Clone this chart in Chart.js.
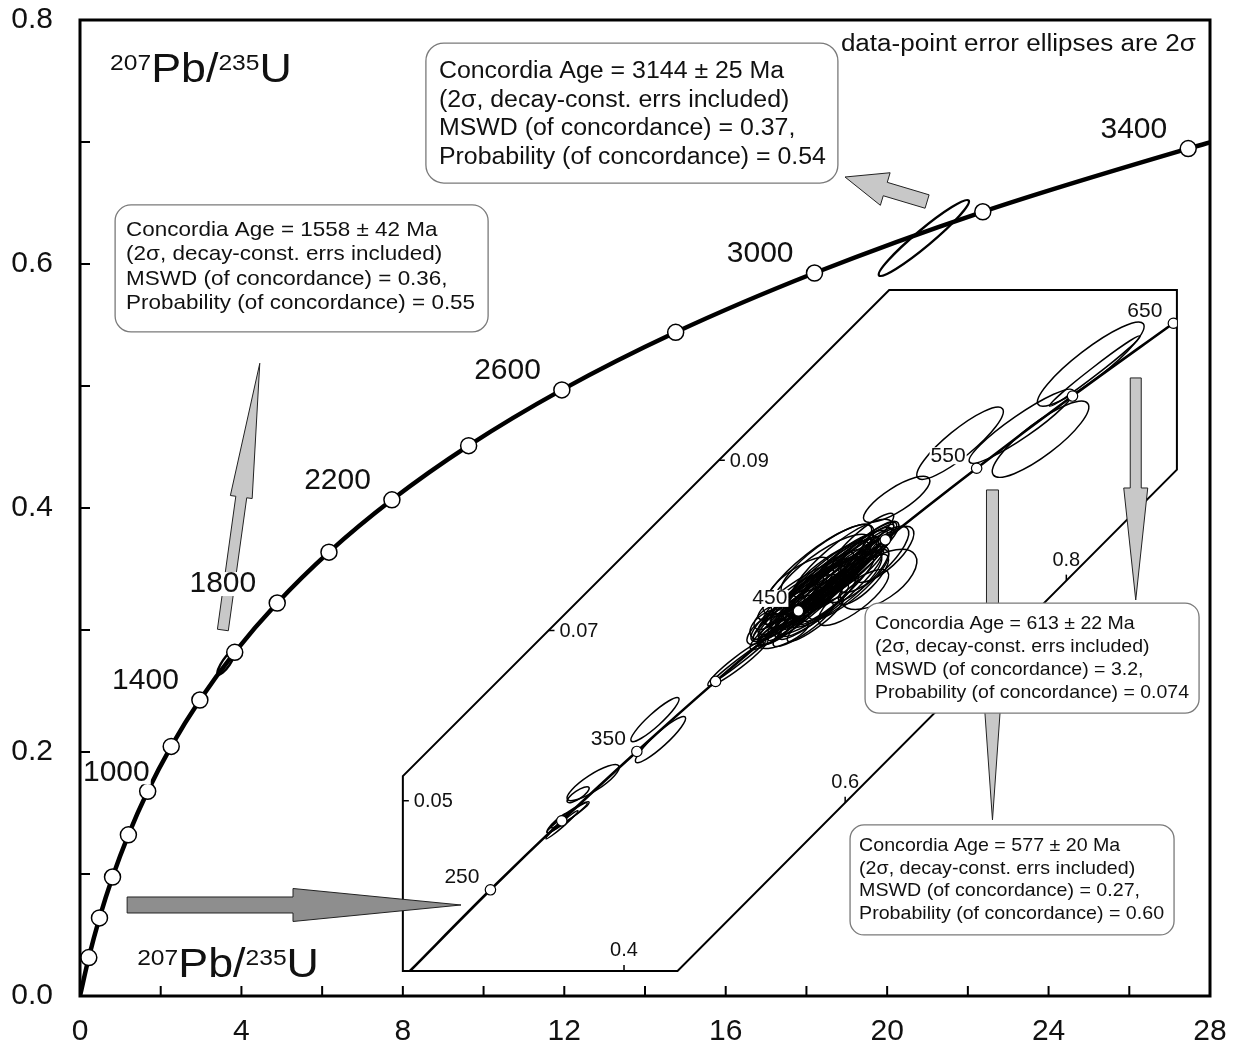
<!DOCTYPE html>
<html>
<head>
<meta charset="utf-8">
<title>U-Pb concordia</title>
<script src="https://cdn.jsdelivr.net/npm/chart.js@4.4.1/dist/chart.umd.min.js"></script>
<style>
  html, body { margin: 0; padding: 0; background: #fff; }
  #wrap { position: relative; width: 1234px; height: 1050px; }
</style>
</head>
<body>
<div id="wrap"><canvas id="concordia" width="1234" height="1050"></canvas></div>
<script>
const FONT = '"Liberation Sans", Arial, Helvetica, sans-serif';

// main concordia, 207Pb/235U (x) vs 206Pb/238U (y), markers every 200 Ma
const concAges = [200, 400, 600, 800, 1000, 1200, 1400, 1600, 1800, 2000, 2200, 2400, 2600, 2800, 3000, 3200, 3400];
const concX = [0.218, 0.483, 0.806, 1.199, 1.677, 2.260, 2.970, 3.834, 4.887, 6.169, 7.729, 9.630, 11.94, 14.76, 18.20, 22.37, 27.46];
const concY = [0.0315, 0.0640, 0.0975, 0.1321, 0.1678, 0.2046, 0.2426, 0.2817, 0.3221, 0.3638, 0.4067, 0.4511, 0.4968, 0.5440, 0.5926, 0.6428, 0.6946];
const concEnds = [[0, 0], [28, 0.6996]];
const concLabelAges = [1000, 1400, 1800, 2200, 2600, 3000, 3400];

// inset: young part of the curve, markers every 50 Ma
const insetAges = [250, 300, 350, 400, 450, 500, 550, 600, 650];
const insetX = [0.2792, 0.3437, 0.4116, 0.4828, 0.5577, 0.6363, 0.7189, 0.8056, 0.8968];
const insetY = [0.03954, 0.04764, 0.05579, 0.06402, 0.07230, 0.08065, 0.08906, 0.09754, 0.10609];
const insetStart = [0.2064, 0.0300];
const insetLabelAges = [250, 350, 450, 550, 650];
const insetXTicks = [0.4, 0.6, 0.8];
const insetYTicks = [0.05, 0.07, 0.09];

// error ellipses: [x, y, 2s x, 2s y, rho]
const mainEllipses = [
  [20.91, 0.6213, 1.118, 0.0311, 0.96],
  [3.627, 0.2734, 0.224, 0.0102, 0.85]
];
const insetEllipses = [
  [0.3439, 0.04718, 0.0145, 0.00165, 0.98],
  [0.3485, 0.04800, 0.0182, 0.00176, 0.97],
  [0.3512, 0.04835, 0.0173, 0.00153, 0.95],
  [0.3403, 0.04741, 0.0100, 0.00118, 0.90],
  [0.3721, 0.05212, 0.0236, 0.00212, 0.85],
  [0.3585, 0.05071, 0.0100, 0.00094, 0.80],
  [0.4280, 0.05953, 0.0218, 0.00259, 0.92],
  [0.4330, 0.05718, 0.0227, 0.00271, 0.92],
  [0.5030, 0.06624, 0.0273, 0.00276, 0.95],
  [0.5039, 0.06635, 0.0245, 0.00247, 0.99],
  [0.5394, 0.07035, 0.0255, 0.00259, 0.90],
  [0.5485, 0.07188, 0.0318, 0.00318, 0.90],
  [0.5575, 0.07306, 0.0364, 0.00353, 0.88],
  [0.5666, 0.07388, 0.0345, 0.00376, 0.85],
  [0.5730, 0.07482, 0.0409, 0.00388, 0.90],
  [0.5803, 0.07541, 0.0382, 0.00412, 0.88],
  [0.5875, 0.07624, 0.0409, 0.00447, 0.87],
  [0.5939, 0.07694, 0.0364, 0.00400, 0.90],
  [0.6003, 0.07765, 0.0382, 0.00412, 0.88],
  [0.6075, 0.07835, 0.0345, 0.00376, 0.90],
  [0.6148, 0.07918, 0.0318, 0.00353, 0.90],
  [0.6212, 0.07976, 0.0273, 0.00306, 0.85],
  [0.5785, 0.07659, 0.0455, 0.00471, 0.80],
  [0.5894, 0.07482, 0.0436, 0.00447, 0.82],
  [0.5621, 0.07482, 0.0409, 0.00353, 0.90],
  [0.6030, 0.07541, 0.0364, 0.00412, 0.85],
  [0.5530, 0.07365, 0.0273, 0.00294, 0.85],
  [0.5712, 0.07224, 0.0318, 0.00329, 0.90],
  [0.5348, 0.07106, 0.0200, 0.00235, 0.80],
  [0.5257, 0.07012, 0.0145, 0.00176, 0.70],
  [0.5303, 0.07153, 0.0127, 0.00141, 0.60],
  [0.5439, 0.06953, 0.0227, 0.00165, 0.70],
  [0.6121, 0.07659, 0.0273, 0.00329, 0.80],
  [0.6257, 0.07835, 0.0318, 0.00388, 0.80],
  [0.6348, 0.07894, 0.0273, 0.00329, 0.75],
  [0.6303, 0.07600, 0.0345, 0.00353, 0.60],
  [0.6466, 0.08541, 0.0300, 0.00271, 0.80],
  [0.5830, 0.07835, 0.0409, 0.00412, 0.85],
  [0.5757, 0.07718, 0.0500, 0.00529, 0.85],
  [0.5966, 0.07776, 0.0473, 0.00529, 0.83],
  [0.5621, 0.07071, 0.0273, 0.00259, 0.88],
  [0.5848, 0.07365, 0.0273, 0.00294, 0.90],
  [0.6166, 0.08071, 0.0273, 0.00306, 0.90],
  [0.5575, 0.07600, 0.0273, 0.00259, 0.80],
  [0.6075, 0.07388, 0.0318, 0.00329, 0.80],
  [0.5530, 0.07306, 0.0364, 0.00412, 0.95],
  [0.5621, 0.07365, 0.0409, 0.00447, 0.95],
  [0.5712, 0.07424, 0.0382, 0.00424, 0.96],
  [0.5803, 0.07482, 0.0436, 0.00471, 0.94],
  [0.5894, 0.07600, 0.0409, 0.00447, 0.95],
  [0.5985, 0.07659, 0.0364, 0.00412, 0.95],
  [0.5848, 0.07541, 0.0345, 0.00353, 0.97],
  [0.5757, 0.07365, 0.0318, 0.00353, 0.96],
  [0.5666, 0.07247, 0.0300, 0.00329, 0.95],
  [0.5575, 0.07188, 0.0273, 0.00306, 0.95],
  [0.5939, 0.07482, 0.0318, 0.00376, 0.93],
  [0.6030, 0.07600, 0.0318, 0.00353, 0.95],
  [0.6121, 0.07776, 0.0300, 0.00353, 0.94],
  [0.5803, 0.07659, 0.0364, 0.00400, 0.93],
  [0.5712, 0.07541, 0.0364, 0.00376, 0.93],
  [0.5621, 0.07424, 0.0345, 0.00353, 0.92],
  [0.5485, 0.07071, 0.0227, 0.00235, 0.90],
  [0.5394, 0.07012, 0.0182, 0.00188, 0.85],
  [0.5348, 0.06953, 0.0136, 0.00118, 0.70],
  [0.5875, 0.07424, 0.0455, 0.00494, 0.92],
  [0.5985, 0.07835, 0.0273, 0.00294, 0.90],
  [0.5730, 0.07129, 0.0255, 0.00259, 0.90],
  [0.6166, 0.07600, 0.0227, 0.00294, 0.80],
  [0.5303, 0.07071, 0.0164, 0.00176, 0.50],
  [0.5803, 0.07541, 0.0500, 0.00565, 0.97],
  [0.5939, 0.07659, 0.0500, 0.00541, 0.96],
  [0.5666, 0.07365, 0.0455, 0.00494, 0.96],
  [0.6030, 0.07776, 0.0409, 0.00471, 0.96],
  [0.5730, 0.07306, 0.0364, 0.00353, 0.85],
  [0.5875, 0.07718, 0.0345, 0.00329, 0.85],
  [0.7039, 0.09200, 0.0391, 0.00424, 0.88],
  [0.7594, 0.09400, 0.0473, 0.00435, 0.93],
  [0.7767, 0.09247, 0.0436, 0.00447, 0.85],
  [0.8221, 0.10129, 0.0482, 0.00494, 0.90],
  [0.8257, 0.10047, 0.0409, 0.00412, 0.99]
];

// concordia age results
const box3144 = ['Concordia Age = 3144 \u00b1 25 Ma', '(2\u03c3, decay-const. errs included)', 'MSWD (of concordance) = 0.37,', 'Probability (of concordance) = 0.54'];
const box1558 = ['Concordia Age = 1558 \u00b1 42 Ma', '(2\u03c3, decay-const. errs included)', 'MSWD (of concordance) = 0.36,', 'Probability (of concordance) = 0.55'];
const box613 = ['Concordia Age = 613 \u00b1 22 Ma', '(2\u03c3, decay-const. errs included)', 'MSWD (of concordance) = 3.2,', 'Probability (of concordance) = 0.074'];
const box577 = ['Concordia Age = 577 \u00b1 20 Ma', '(2\u03c3, decay-const. errs included)', 'MSWD (of concordance) = 0.27,', 'Probability (of concordance) = 0.60'];

// where the inset sits, in main-axis units
const insetPlace = { xMin: 8, xMax: 27.18, yMin: 0.0205, yMax: 0.5787 };
// inset outline in inset units (band around the curve)
const insetFrame = [[0.2, 0.03], [0.4484, 0.03], [0.9, 0.0889], [0.9, 0.11], [0.6398, 0.11], [0.2, 0.0529]];

const resultBoxes = [
  { at: [8.571, 0.7811], w: 412, h: 140, r: 18, size: 23, textWidth: 387, first: 29, step: 28.5, pad: 13, lines: box3144 },
  { at: [0.870, 0.6484], w: 373, h: 127, r: 16, size: 21, textWidth: 349, first: 25, step: 24.5, pad: 11, lines: box1558 },
  { at: [19.453, 0.3221], w: 334, h: 110, r: 14, size: 19, textWidth: 314, first: 21, step: 23, pad: 10, lines: box613 },
  { at: [19.081, 0.1402], w: 324, h: 110, r: 14, size: 19, textWidth: 305, first: 21, step: 22.5, pad: 9, lines: box577 }
];

const arrows = [
  { from: [1.168, 0.0746], to: [9.441, 0.0746], shaft: 8, headLen: 168, head: 16.5, fill: '#8e8e8e' },
  { from: [3.540, 0.3000], to: [4.455, 0.5186], shaft: 5.5, headLen: 135, head: 11, fill: '#c8c8c8' },
  { from: [20.99, 0.6512], to: [18.956, 0.6713], shaft: 7, headLen: 42, head: 17, fill: '#c8c8c8' },
  { from: [26.16, 0.5066], to: [26.16, 0.3246], shaft: 5.5, headLen: 112, head: 12, fill: '#c8c8c8' },
  { from: [22.61, 0.4148], to: [22.61, 0.1443], shaft: 6, headLen: 170, head: 12, fill: '#c8c8c8' }
];

function pts(xs, ys) {
  return xs.map((x, i) => ({ x: x, y: ys[i] }));
}

function drawEllipse(ctx, xs, ys, e) {
  const [cx, cy, sx, sy, rho] = e;
  const px = xs.getPixelForValue(cx), py = ys.getPixelForValue(cy);
  const ax = xs.getPixelForValue(cx + sx) - px;
  const ay = ys.getPixelForValue(cy + sy) - py;
  const a = ax * ax, b = ay * ay, c = rho * ax * ay;
  const mid = (a + b) / 2, d = Math.sqrt(((a - b) / 2) ** 2 + c * c);
  const r1 = Math.sqrt(mid + d), r2 = Math.sqrt(Math.max(mid - d, 0.5));
  const ang = 0.5 * Math.atan2(2 * c, a - b);
  ctx.beginPath();
  ctx.ellipse(px, py, r1, r2, ang, 0, 2 * Math.PI);
  ctx.stroke();
}

function drawArrow(ctx, p0, p1, a) {
  const dx = p1.x - p0.x, dy = p1.y - p0.y, L = Math.hypot(dx, dy);
  const ux = dx / L, uy = dy / L, nx = -uy, ny = ux;
  const bx = p1.x - ux * a.headLen, by = p1.y - uy * a.headLen;
  const poly = [
    [p0.x + nx * a.shaft, p0.y + ny * a.shaft],
    [bx + nx * a.shaft, by + ny * a.shaft],
    [bx + nx * a.head, by + ny * a.head],
    [p1.x, p1.y],
    [bx - nx * a.head, by - ny * a.head],
    [bx - nx * a.shaft, by - ny * a.shaft],
    [p0.x - nx * a.shaft, p0.y - ny * a.shaft]
  ];
  ctx.beginPath();
  poly.forEach((p, i) => i ? ctx.lineTo(p[0], p[1]) : ctx.moveTo(p[0], p[1]));
  ctx.closePath();
  ctx.fillStyle = a.fill;
  ctx.fill();
  ctx.lineWidth = 1;
  ctx.strokeStyle = '#222';
  ctx.stroke();
}

function roundBox(ctx, x, y, w, h, r) {
  ctx.beginPath();
  ctx.moveTo(x + r, y);
  ctx.arcTo(x + w, y, x + w, y + h, r);
  ctx.arcTo(x + w, y + h, x, y + h, r);
  ctx.arcTo(x, y + h, x, y, r);
  ctx.arcTo(x, y, x + w, y, r);
  ctx.closePath();
}

// text with a horizontal stretch factor
function textAt(ctx, str, x, y, sx, align) {
  ctx.save();
  ctx.translate(x, y);
  ctx.scale(sx, 1);
  ctx.textAlign = align || 'left';
  ctx.fillText(str, 0, 0);
  ctx.restore();
}

// label on a white patch, so it knocks out lines behind it
function patchLabel(ctx, str, x, y, h) {
  const w = ctx.measureText(str).width;
  ctx.fillStyle = '#fff';
  ctx.fillRect(x - 1, y - h / 2, w + 2, h);
  ctx.fillStyle = '#111';
  ctx.textAlign = 'left';
  ctx.fillText(str, x, y);
}

function isotopeLabel(ctx, x, y) {
  const sx = 1.12;
  let cx = x;
  const part = (s, size, rise) => {
    ctx.font = size + 'px ' + FONT;
    textAt(ctx, s, cx, y - rise, sx, 'left');
    cx += ctx.measureText(s).width * sx;
  };
  ctx.textBaseline = 'alphabetic';
  part('207', 22, 12); part('Pb/', 40, 0); part('235', 22, 12); part('U', 40, 0);
}

// point on a frame edge chain where one coordinate equals val
function edgePoint(chain, axis, val) {
  for (let i = 0; i < chain.length - 1; i++) {
    const a = chain[i], b = chain[i + 1];
    const lo = Math.min(a[axis], b[axis]), hi = Math.max(a[axis], b[axis]);
    if (hi > lo && val >= lo && val <= hi) {
      const t = (val - a[axis]) / (b[axis] - a[axis]);
      return [a[0] + t * (b[0] - a[0]), a[1] + t * (b[1] - a[1])];
    }
  }
  return null;
}

const concordiaPlugin = {
  id: 'concordiaExtras',
  afterLayout(chart) {
    // squeeze the inset axes into their box inside the plot
    const { x, y, ix, iy } = chart.scales;
    ix.left = x.getPixelForValue(insetPlace.xMin);
    ix.right = x.getPixelForValue(insetPlace.xMax);
    ix.width = ix.right - ix.left;
    iy.top = y.getPixelForValue(insetPlace.yMax);
    iy.bottom = y.getPixelForValue(insetPlace.yMin);
    iy.height = iy.bottom - iy.top;
    ix.configure();
    iy.configure();
  },
  beforeDatasetsDraw(chart) {
    const ctx = chart.ctx;
    const { x, y, ix, iy } = chart.scales;
    ctx.save();
    // inset outline
    ctx.beginPath();
    insetFrame.forEach((p, i) => {
      const px = ix.getPixelForValue(p[0]), py = iy.getPixelForValue(p[1]);
      i ? ctx.lineTo(px, py) : ctx.moveTo(px, py);
    });
    ctx.closePath();
    ctx.fillStyle = '#fff';
    ctx.fill();
    ctx.lineWidth = 2;
    ctx.strokeStyle = '#000';
    ctx.stroke();

    // inset ticks
    ctx.fillStyle = '#111';
    ctx.font = '20px ' + FONT;
    const lower = [insetFrame[0], insetFrame[1], insetFrame[2]];
    const left = [insetFrame[0], insetFrame[5], insetFrame[4]];
    ctx.lineWidth = 1.5;
    insetXTicks.forEach(v => {
      const p = edgePoint(lower, 0, v);
      const px = ix.getPixelForValue(p[0]), py = iy.getPixelForValue(p[1]);
      ctx.beginPath(); ctx.moveTo(px, py); ctx.lineTo(px, py - 6); ctx.stroke();
      ctx.textAlign = 'center'; ctx.textBaseline = 'alphabetic';
      ctx.fillText(v.toFixed(1), px, py - 15);
    });
    insetYTicks.forEach(v => {
      const p = edgePoint(left, 1, v);
      const px = ix.getPixelForValue(p[0]), py = iy.getPixelForValue(p[1]);
      ctx.beginPath(); ctx.moveTo(px, py); ctx.lineTo(px + 6, py); ctx.stroke();
      ctx.textAlign = 'left'; ctx.textBaseline = 'middle';
      ctx.fillText(v.toFixed(2), px + 11, py + 1);
    });

    // error ellipses
    ctx.strokeStyle = '#000';
    ctx.lineWidth = 2.4;
    mainEllipses.forEach(e => drawEllipse(ctx, x, y, e));
    ctx.lineWidth = 1.5;
    insetEllipses.forEach(e => drawEllipse(ctx, ix, iy, e));
    ctx.restore();
  },
  afterDatasetsDraw(chart) {
    const ctx = chart.ctx;
    const { x, y } = chart.scales;
    const area = chart.chartArea;
    ctx.save();
    ctx.strokeStyle = '#000';
    // inward tick marks and frame
    ctx.lineWidth = 2;
    x.ticks.forEach(t => {
      const px = x.getPixelForValue(t.value);
      ctx.beginPath(); ctx.moveTo(px, area.bottom); ctx.lineTo(px, area.bottom - 10); ctx.stroke();
    });
    y.ticks.forEach(t => {
      const py = y.getPixelForValue(t.value);
      ctx.beginPath(); ctx.moveTo(area.left, py); ctx.lineTo(area.left + 10, py); ctx.stroke();
    });
    ctx.lineWidth = 3;
    ctx.strokeRect(area.left, area.top, area.right - area.left, area.bottom - area.top);
    ctx.restore();
  },
  afterDraw(chart) {
    const ctx = chart.ctx;
    const { x, y, ix, iy } = chart.scales;
    const area = chart.chartArea;
    const P = (p) => ({ x: x.getPixelForValue(p[0]), y: y.getPixelForValue(p[1]) });
    ctx.save();
    arrows.forEach(a => drawArrow(ctx, P(a.from), P(a.to), a));

    // age labels on the main curve
    ctx.font = '30px ' + FONT;
    ctx.textBaseline = 'middle';
    concLabelAges.forEach(age => {
      const i = concAges.indexOf(age);
      const px = x.getPixelForValue(concX[i]), py = y.getPixelForValue(concY[i]);
      const s = String(age);
      const w = ctx.measureText(s).width;
      const lx = Math.max(px - 21 - w, area.left + 3);
      patchLabel(ctx, s, lx, py - 19, 24);
    });
    // age labels on the inset curve
    ctx.font = '21px ' + FONT;
    insetLabelAges.forEach(age => {
      const i = insetAges.indexOf(age);
      const px = ix.getPixelForValue(insetX[i]), py = iy.getPixelForValue(insetY[i]);
      const s = String(age);
      patchLabel(ctx, s, px - 11 - ctx.measureText(s).width, py - 12.5, 17);
    });

    resultBoxes.forEach(b => {
      const o = P(b.at);
      roundBox(ctx, o.x, o.y, b.w, b.h, b.r);
      ctx.fillStyle = '#fff';
      ctx.fill();
      ctx.lineWidth = 1.3;
      ctx.strokeStyle = '#7a7a7a';
      ctx.stroke();
      ctx.font = b.size + 'px ' + FONT;
      const widest = Math.max(...b.lines.map(s => ctx.measureText(s).width));
      const sx = b.textWidth / widest;
      ctx.fillStyle = '#111';
      ctx.textBaseline = 'middle';
      b.lines.forEach((s, k) => textAt(ctx, s, o.x + b.pad, o.y + b.first + k * b.step, sx, 'left'));
    });

    // note in the top right corner
    const note = 'data-point error ellipses are 2\u03c3';
    ctx.font = '23px ' + FONT;
    ctx.textBaseline = 'middle';
    ctx.fillStyle = '#111';
    const np = P([27.65, 0.7795]);
    textAt(ctx, note, np.x, np.y, 355 / ctx.measureText(note).width, 'right');

    const t1 = P([0.745, 0.7492]);
    isotopeLabel(ctx, t1.x, t1.y);
    const t2 = P([1.416, 0.01557]);
    isotopeLabel(ctx, t2.x, t2.y);
    ctx.restore();
  }
};

const tickFont = { family: FONT, size: 30 };

new Chart(document.getElementById('concordia'), {
  type: 'scatter',
  data: {
    datasets: [
      {
        data: pts(concX, concY),
        xAxisID: 'x', yAxisID: 'y',
        showLine: false,
        pointRadius: 8,
        pointBackgroundColor: '#fff',
        pointBorderColor: '#000',
        pointBorderWidth: 1.5,
        order: 0
      },
      {
        data: pts(insetX, insetY),
        xAxisID: 'ix', yAxisID: 'iy',
        showLine: false,
        pointRadius: 5.2,
        pointBackgroundColor: '#fff',
        pointBorderColor: '#000',
        pointBorderWidth: 1.2,
        order: 0
      },
      {
        data: [{ x: concEnds[0][0], y: concEnds[0][1] }].concat(pts(concX, concY), [{ x: concEnds[1][0], y: concEnds[1][1] }]),
        xAxisID: 'x', yAxisID: 'y',
        showLine: true,
        borderColor: '#000',
        borderWidth: 4.5,
        pointRadius: 0,
        cubicInterpolationMode: 'monotone',
        order: 1
      },
      {
        data: [{ x: insetStart[0], y: insetStart[1] }].concat(pts(insetX, insetY)),
        xAxisID: 'ix', yAxisID: 'iy',
        showLine: true,
        borderColor: '#000',
        borderWidth: 2.6,
        pointRadius: 0,
        cubicInterpolationMode: 'monotone',
        order: 1
      }
    ]
  },
  options: {
    responsive: false,
    animation: false,
    events: [],
    layout: { padding: { top: 20, right: 24, left: 0, bottom: 0 }, autoPadding: false },
    plugins: { legend: { display: false }, tooltip: { enabled: false } },
    scales: {
      x: {
        type: 'linear', position: 'bottom', min: 0, max: 28,
        grid: { display: false, drawTicks: false },
        border: { display: false },
        afterFit: s => { s.height = 54; s.paddingLeft = 0; s.paddingRight = 0; },
        ticks: {
          stepSize: 2, autoSkip: false, maxRotation: 0, padding: 18,
          color: '#111', font: tickFont,
          callback: v => (Math.round(v) % 4 === 0 ? String(Math.round(v)) : '')
        }
      },
      y: {
        type: 'linear', position: 'left', min: 0, max: 0.8,
        grid: { display: false, drawTicks: false },
        border: { display: false },
        afterFit: s => { s.width = 80; s.paddingTop = 0; s.paddingBottom = 0; },
        ticks: {
          stepSize: 0.1, autoSkip: false, padding: 27,
          color: '#111', font: tickFont,
          callback: v => (Math.round(v * 10) % 2 === 0 ? v.toFixed(1) : '')
        }
      },
      ix: { type: 'linear', position: 'bottom', display: false, min: 0.2, max: 0.9 },
      iy: { type: 'linear', position: 'left', display: false, min: 0.03, max: 0.11 }
    }
  },
  plugins: [concordiaPlugin]
});
</script>
</body>
</html>
